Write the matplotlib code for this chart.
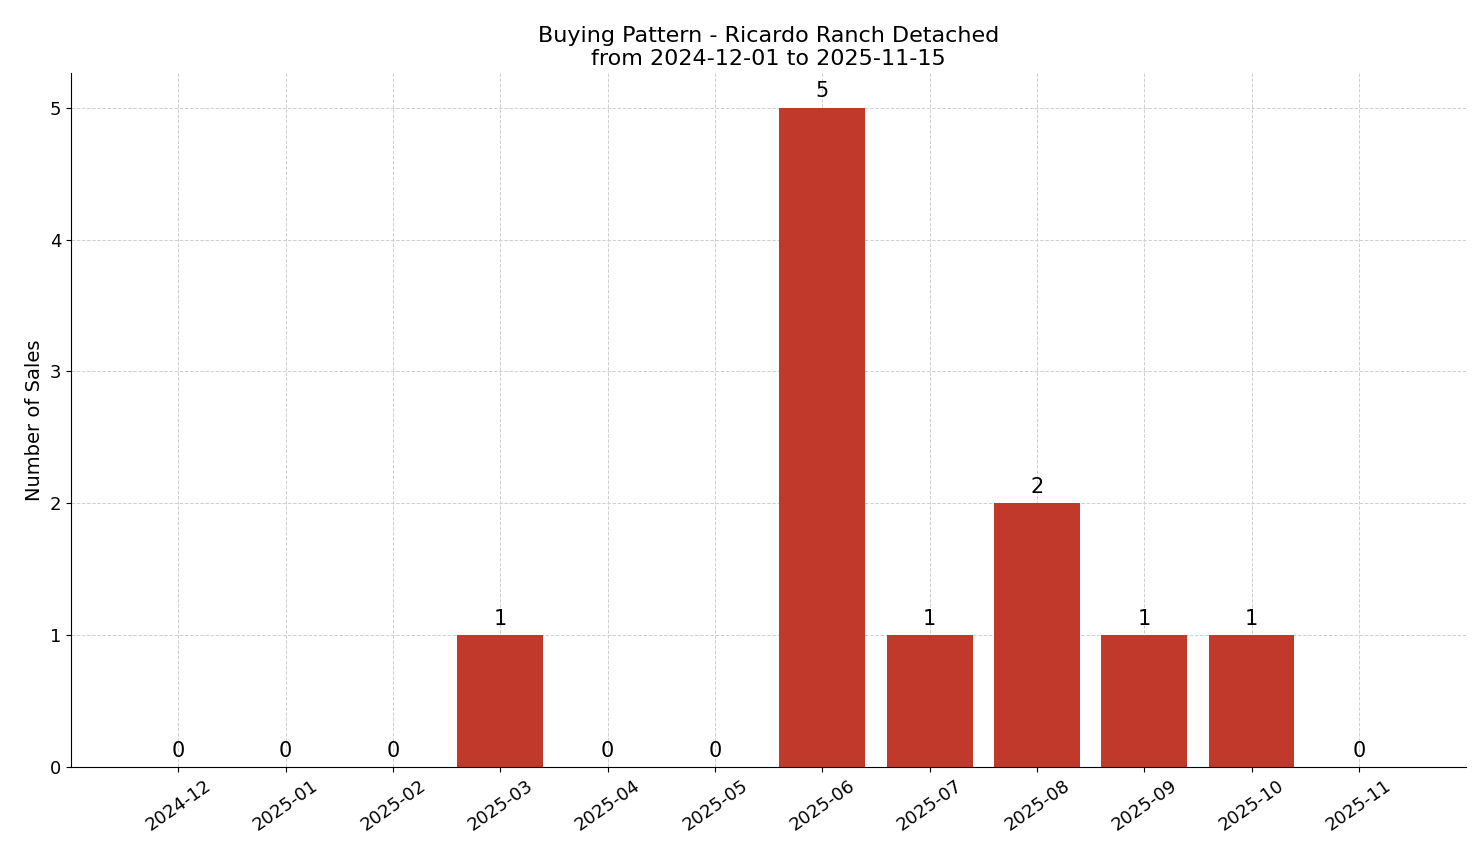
import matplotlib
matplotlib.use("Agg")
import matplotlib.pyplot as plt

months = ["2024-12","2025-01","2025-02","2025-03","2025-04","2025-05",
          "2025-06","2025-07","2025-08","2025-09","2025-10","2025-11"]
sales = [0,0,0,1,0,0,5,1,2,1,1,0]

fig = plt.figure(figsize=(14.81, 8.63), dpi=100)
ax = fig.add_axes([0.048, 0.111, 0.942, 0.804])
x = list(range(len(months)))
bars = ax.bar(x, sales, width=0.8, color="#c0392b", zorder=2)
for xi, v in zip(x, sales):
    ax.text(xi, v + 0.05, str(v), ha="center", va="bottom", fontsize=15)
ax.set_xticks(x)
ax.set_xticklabels(months, rotation=35, fontsize=13)
ax.tick_params(axis="y", labelsize=13)
ax.set_xlim(-1, 12)
ax.set_ylim(0, 5.26)
ax.set_yticks(range(6))
ax.set_ylabel("Number of Sales", fontsize=14)
ax.set_title("Buying Pattern - Ricardo Ranch Detached\nfrom 2024-12-01 to 2025-11-15", fontsize=16)
ax.grid(True, linestyle="--", color="#d0d0d0", linewidth=0.7, zorder=0)
ax.spines["top"].set_visible(False)
ax.spines["right"].set_visible(False)
fig.savefig("out.png", dpi=100)
